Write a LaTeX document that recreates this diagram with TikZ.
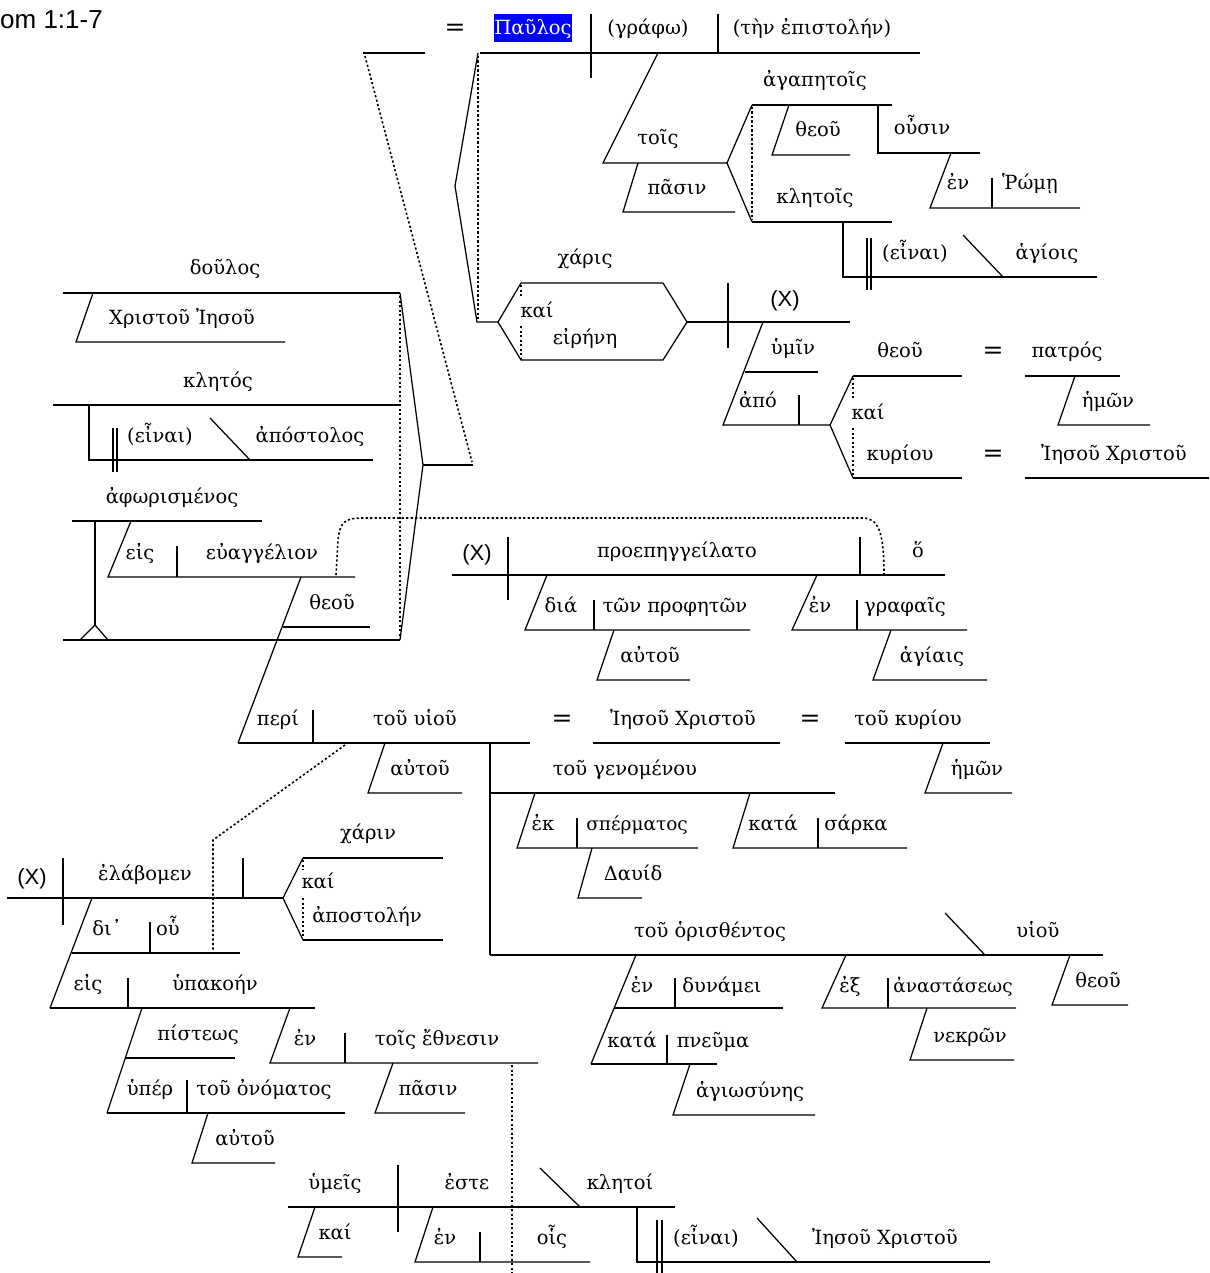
\documentclass[tikz,border=0pt]{standalone}
\usepackage{fontspec}
\newfontfamily\gk{DejaVu Serif}
\newfontfamily\arl{Liberation Sans}
\begin{document}
\begin{tikzpicture}[x=1pt,y=-1pt,
  ln/.style={line width=1.25pt},
  dt/.style={line width=1.6pt, dash pattern=on 2.2pt off 2.3pt},
  t/.style={font=\gk\fontsize{19.5}{22}\selectfont, anchor=base, inner sep=0pt, yshift=-7pt},
  ts/.style={font=\gk\fontsize{18.5}{22}\selectfont, anchor=base, inner sep=0pt, yshift=-7pt},
  eqs/.style={font=\gk\fontsize{25}{27}\selectfont, anchor=base, inner sep=0pt, yshift=-8pt},
  sx/.style={font=\arl\fontsize{22}{24}\selectfont, anchor=base, inner sep=0pt, yshift=-8pt},
]
\useasboundingbox (0,0) rectangle (1209,1273);
\node[font=\arl\fontsize{26}{28}\selectfont, anchor=base west, inner sep=0pt] (title) at (0,29) {om 1:1-7};

% ---------- main clause top
\draw[ln] (363,53)--(425,53);
\draw[dt] (365,56)--(472,462);
\node[eqs] (eqA) at (455,28) {=};
\draw[ln] (480,53)--(920,53);
\draw[ln] (591,14)--(591,78);
\draw[ln] (718,14)--(718,53);
\fill[blue] (494,14) rectangle (572,42);
\node[t,text=white] (paulos) at (533,28) {Παῦλος};
\node[t] (grafo) at (648,28) {(γράφω)};
\node[t] (epist) at (812,28) {(τὴν ἐπιστολήν)};
\draw[ln] (478,53)--(455,186)--(477,322)--(498,322);
\draw[dt] (478,56)--(478,320);

% tois pasin
\draw[ln] (658,53)--(603,163)--(727,163);
\node[t] (tois) at (658,138) {τοῖς};
\draw[ln] (638,163)--(623,212)--(735,212);
\node[t] (pasin) at (677,188) {πᾶσιν};
\draw[ln] (752,105)--(727,163)--(752,222);
\draw[dt] (752,107)--(752,220);
\draw[ln] (752,105)--(892,105);
\node[t] (agap) at (815,80) {ἀγαπητοῖς};
\draw[ln] (789,105)--(772,155)--(850,155);
\node[t] (theouA) at (818,130) {θεοῦ};
\draw[ln] (878,105)--(878,153)--(980,153);
\node[t] (ousin) at (922,128) {οὖσιν};
\draw[ln] (951,153)--(930,208)--(1080,208);
\node[t] (enA) at (958,183) {ἐν};
\draw[ln] (992,178)--(992,208);
\node[t] (rome) at (1030,183) {Ῥώμῃ};
\draw[ln] (752,222)--(892,222);
\node[t] (kletois) at (815,197) {κλητοῖς};
\draw[ln] (843,222)--(843,277)--(1097,277);
\draw[ln] (867,238)--(867,290) (871,238)--(871,290);
\node[t] (einaiA) at (915,252) {(εἶναι)};
\draw[ln] (963,235)--(1003,277);
\node[t] (hagiois) at (1047,252) {ἁγίοις};

% charis kai eirene
\draw[ln] (498,322)--(521,283)--(663,283)--(687,322)--(663,360)--(521,360)--cycle;
\node[t] (charis) at (585,258) {χάρις};
\draw[dt] (521,285)--(521,298) (521,326)--(521,358);
\node[t] (kaiA) at (537,310) {καί};
\node[t] (eirene) at (585,337) {εἰρήνη};
\draw[ln] (687,322)--(850,322);
\draw[ln] (728,283)--(728,348);
\node[sx] (xA) at (785,298) {(X)};
\draw[ln] (763,322)--(723,425)--(830,425);
\draw[ln] (745,372)--(818,372);
\node[t] (humin) at (793,347) {ὑμῖν};
\node[t] (apo) at (758,400) {ἀπό};
\draw[ln] (799,395)--(799,425);
\draw[ln] (853,376)--(830,425)--(853,478);
\draw[dt] (853,378)--(853,398) (853,428)--(853,476);
\node[t] (kaiB) at (868,412) {καί};
\draw[ln] (853,376)--(962,376);
\node[t] (theouB) at (900,350) {θεοῦ};
\node[eqs] (eqB) at (993,350) {=};
\draw[ln] (1025,376)--(1120,376);
\node[t] (patros) at (1067,350) {πατρός};
\draw[ln] (1075,376)--(1058,425)--(1150,425);
\node[t] (hemonA) at (1108,400) {ἡμῶν};
\draw[ln] (853,478)--(962,478);
\node[t] (kuriou) at (900,453) {κυρίου};
\node[eqs] (eqC) at (993,453) {=};
\draw[ln] (1025,478)--(1209,478);
\node[t] (ieschrA) at (1114,453) {Ἰησοῦ Χριστοῦ};

% ---------- left apposition block
\node[t] (doulos) at (225,267) {δοῦλος};
\draw[ln] (63,293)--(400,293);
\draw[ln] (93,293)--(76,342)--(285,342);
\node[t] (chrIes) at (182,317) {Χριστοῦ Ἰησοῦ};
\node[t] (kletos) at (218,380) {κλητός};
\draw[ln] (53,405)--(400,405);
\draw[ln] (89,405)--(89,460)--(373,460);
\draw[ln] (113,428)--(113,472) (117,428)--(117,472);
\node[t] (einaiB) at (160,435) {(εἶναι)};
\draw[ln] (210,418)--(250,460);
\node[t] (apostolos) at (310,435) {ἀπόστολος};
\node[t] (aphor) at (172,496) {ἀφωρισμένος};
\draw[ln] (72,521)--(262,521);
\draw[ln] (95,521)--(95,625);
\draw[ln] (80,640)--(95,625)--(108,640);
\draw[ln] (63,640)--(400,640);
\draw[ln] (131,521)--(108,577)--(355,577);
\node[t] (eisA) at (140,552) {εἰς};
\draw[ln] (177,546)--(177,577);
\node[t] (euang) at (262,552) {εὐαγγέλιον};
\draw[ln] (301,577)--(238,743);
\draw[ln] (283,627)--(370,627);
\node[t] (theouC) at (332,602) {θεοῦ};
\draw[ln] (400,293)--(423,465)--(400,640);
\draw[dt] (400,296)--(400,638);
\draw[ln] (423,465)--(473,465);

% ---------- proepengeilato
\draw[ln] (452,575)--(945,575);
\node[sx] (xB) at (477,552) {(X)};
\draw[ln] (508,537)--(508,600);
\node[t] (proep) at (677,550) {προεπηγγείλατο};
\draw[ln] (860,537)--(860,575);
\node[t] (ho) at (918,550) {ὅ};
\draw[dt] (336,575)--(338,540) .. controls (340,522) and (345,518) .. (362,518)
   --(862,518) .. controls (878,518) and (884,530) .. (884,575);
\draw[ln] (547,575)--(525,630)--(750,630);
\node[t] (dia) at (561,605) {διά};
\draw[ln] (594,600)--(594,630);
\node[t] (proph) at (675,605) {τῶν προφητῶν};
\draw[ln] (614,630)--(597,680)--(690,680);
\node[t] (autouA) at (650,655) {αὐτοῦ};
\draw[ln] (817,575)--(792,630)--(967,630);
\node[t] (enB) at (820,605) {ἐν};
\draw[ln] (857,600)--(857,630);
\node[t] (graph) at (905,605) {γραφαῖς};
\draw[ln] (891,630)--(873,680)--(987,680);
\node[t] (hagiais) at (932,655) {ἁγίαις};

% ---------- peri tou huiou
\draw[ln] (238,743)--(530,743);
\node[t] (peri) at (278,718) {περί};
\draw[ln] (313,710)--(313,743);
\node[t] (huiou) at (415,718) {τοῦ υἱοῦ};
\node[eqs] (eqD) at (562,718) {=};
\draw[ln] (593,743)--(780,743);
\node[t] (ieschrB) at (683,718) {Ἰησοῦ Χριστοῦ};
\node[eqs] (eqE) at (810,718) {=};
\draw[ln] (845,743)--(990,743);
\node[t] (toukur) at (908,718) {τοῦ κυρίου};
\draw[ln] (943,743)--(925,793)--(1012,793);
\node[t] (hemonB) at (977,768) {ἡμῶν};
\draw[ln] (385,743)--(368,793)--(462,793);
\node[t] (autouB) at (420,768) {αὐτοῦ};
\draw[ln] (490,743)--(490,955);
\draw[ln] (490,793)--(835,793);
\node[t] (genom) at (625,768) {τοῦ γενομένου};
\draw[ln] (490,955)--(1103,955);
\node[t] (horis) at (710,930) {τοῦ ὁρισθέντος};
\draw[ln] (945,913)--(985,955);
\node[t] (huiouB) at (1038,930) {υἱοῦ};
\draw[ln] (535,793)--(517,848)--(698,848);
\node[t] (ek) at (543,823) {ἐκ};
\draw[ln] (577,818)--(577,848);
\node[ts] (sperm) at (637,823) {σπέρματος};
\draw[ln] (592,848)--(578,898)--(642,898);
\node[t] (dauid) at (633,873) {Δαυίδ};
\draw[ln] (750,793)--(733,848)--(907,848);
\node[t] (kataA) at (773,823) {κατά};
\draw[ln] (818,818)--(818,848);
\node[t] (sarka) at (856,823) {σάρκα};
\draw[ln] (636,955)--(591,1064);
\draw[ln] (614,1008)--(783,1008);
\node[t] (enC) at (642,985) {ἐν};
\draw[ln] (675,978)--(675,1008);
\node[t] (dunamei) at (722,985) {δυνάμει};
\draw[ln] (591,1064)--(717,1064);
\node[t] (kataB) at (632,1040) {κατά};
\draw[ln] (667,1035)--(667,1064);
\node[t] (pneuma) at (713,1040) {πνεῦμα};
\draw[ln] (690,1064)--(673,1115)--(815,1115);
\node[t] (hagios) at (750,1090) {ἁγιωσύνης};
\draw[ln] (846,955)--(822,1008)--(1016,1008);
\node[t] (ex) at (850,985) {ἐξ};
\draw[ln] (888,978)--(888,1008);
\node[ts] (anast) at (953,985) {ἀναστάσεως};
\draw[ln] (927,1008)--(910,1060)--(1014,1060);
\node[t] (nekron) at (970,1035) {νεκρῶν};
\draw[ln] (1070,955)--(1052,1005)--(1128,1005);
\node[t] (theouD) at (1098,980) {θεοῦ};
\draw[dt] (345,745)--(213,840)--(213,951);

% ---------- elabomen
\draw[ln] (7,898)--(283,898);
\node[sx] (xC) at (32,876) {(X)};
\draw[ln] (63,858)--(63,925);
\node[t] (elab) at (145,873) {ἐλάβομεν};
\draw[ln] (243,858)--(243,898);
\draw[ln] (303,858)--(283,898)--(303,940);
\draw[dt] (303,860)--(303,870) (303,898)--(303,938);
\draw[ln] (303,858)--(443,858);
\node[t] (charin) at (368,832) {χάριν};
\draw[ln] (303,940)--(443,940);
\node[t] (kaiC) at (318,881) {καί};
\node[t] (apostolen) at (367,915) {ἀποστολήν};
\draw[ln] (92,898)--(50,1008);
\draw[ln] (72,953)--(240,953);
\node[t] (di) at (107,928) {δι᾽};
\draw[ln] (150,922)--(150,953);
\node[t] (hou) at (168,928) {οὗ};
\draw[ln] (50,1008)--(315,1008);
\node[t] (eisB) at (88,983) {εἰς};
\draw[ln] (128,978)--(128,1008);
\node[t] (hupak) at (215,983) {ὑπακοήν};
\draw[ln] (142,1008)--(107,1113);
\draw[ln] (125,1058)--(235,1058);
\node[t] (pisteos) at (198,1033) {πίστεως};
\draw[ln] (107,1113)--(345,1113);
\node[t] (huper) at (150,1088) {ὑπέρ};
\draw[ln] (187,1080)--(187,1113);
\node[t] (onom) at (264,1088) {τοῦ ὀνόματος};
\draw[ln] (208,1113)--(192,1163)--(275,1163);
\node[t] (autouC) at (245,1138) {αὐτοῦ};
\draw[ln] (290,1008)--(270,1063)--(538,1063);
\node[t] (enD) at (305,1038) {ἐν};
\draw[ln] (345,1033)--(345,1063);
\node[t] (ethnesin) at (437,1038) {τοῖς ἔθνεσιν};
\draw[ln] (393,1063)--(375,1113)--(465,1113);
\node[t] (pasinB) at (428,1088) {πᾶσιν};
\draw[dt] (512,1065)--(512,1273);

% ---------- humeis este
\draw[ln] (288,1207)--(675,1207);
\node[t] (humeis) at (335,1182) {ὑμεῖς};
\draw[ln] (398,1165)--(398,1232);
\node[t] (este) at (467,1182) {ἐστε};
\draw[ln] (540,1168)--(580,1207);
\node[t] (kletoi) at (620,1182) {κλητοί};
\draw[ln] (315,1207)--(298,1257)--(342,1257);
\node[t] (kaiD) at (335,1232) {καί};
\draw[ln] (433,1207)--(415,1262)--(590,1262);
\node[t] (enE) at (445,1237) {ἐν};
\draw[ln] (480,1232)--(480,1262);
\node[t] (hois) at (552,1237) {οἷς};
\draw[ln] (637,1207)--(637,1262)--(990,1262);
\draw[ln] (657,1220)--(657,1273) (662,1220)--(662,1273);
\node[t] (einaiC) at (706,1237) {(εἶναι)};
\draw[ln] (757,1218)--(797,1262);
\node[t] (ieschrC) at (885,1237) {Ἰησοῦ Χριστοῦ};
\end{tikzpicture}
\end{document}
